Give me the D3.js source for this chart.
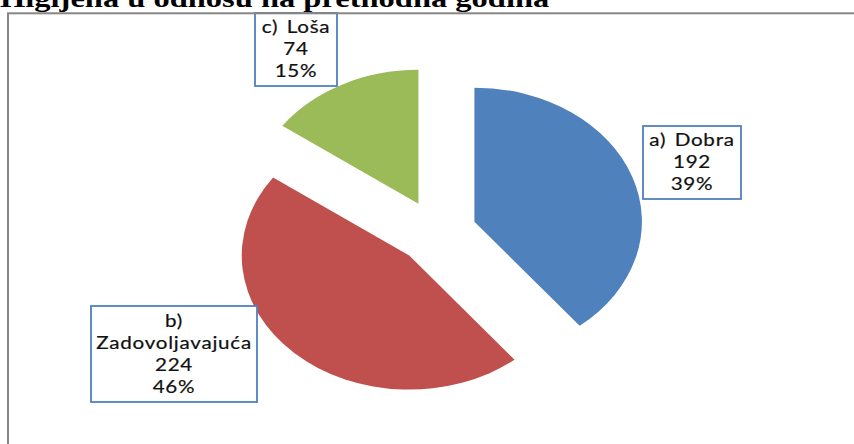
<!DOCTYPE html>
<html>
<head>
<meta charset="utf-8">
<script src="https://cdn.jsdelivr.net/npm/d3@7"></script>
<style>
  html, body { margin: 0; padding: 0; background: #fff; overflow: hidden; }
</style>
</head>
<body>
<div id="chart"></div>
<script>
// data
const title = 'Higijena u odnosu na prethodna godina';
const categories = ['a) Dobra', 'b) Zadovoljavajuća', 'c) Loša'];
const labelLines = [['a) Dobra'], ['b)', 'Zadovoljavajuća'], ['c) Loša']];
const values = [192, 224, 74];
const colors = ['#4F81BD', '#C0504D', '#9BBB59'];

// label boxes, placed by hand like in the original
const labelBoxes = [
  { x: 643, y: 126, w: 98, h: 73 },
  { x: 91, y: 306, w: 166, h: 96 },
  { x: 255, y: 13, w: 82, h: 73 }
];

const width = 854, height = 444;
const stretch = 1.25;      // picture is wider than tall
const R = 134;             // vertical radius
const explode = 32;
const center = [436.7, 232.3];

const svg = d3.select('#chart').append('svg')
  .attr('width', width)
  .attr('height', height)
  .style('display', 'block');

svg.append('rect').attr('width', width).attr('height', height).attr('fill', '#fff');

// title (cut by the top edge)
svg.append('text')
  .attr('transform', 'translate(0,7) scale(' + stretch + ',1)')
  .attr('font-family', '"Liberation Serif", "Times New Roman", serif')
  .attr('font-weight', 'bold')
  .attr('font-size', 26)
  .attr('fill', '#000')
  .text(title);

const total = d3.sum(values);
const pct = d3.format('.0%');

const pie = d3.pie().sort(null).value(d => d)(values);
const arc = d3.arc().innerRadius(0).outerRadius(R);

const g = svg.append('g')
  .attr('transform', 'translate(' + center[0] + ',' + center[1] + ')');

g.selectAll('path')
  .data(pie)
  .join('path')
  .attr('transform', d => {
    const m = (d.startAngle + d.endAngle) / 2;
    const dx = Math.sin(m) * explode * stretch;
    const dy = -Math.cos(m) * explode;
    return 'translate(' + dx + ',' + dy + ') scale(' + stretch + ',1)';
  })
  .attr('d', arc)
  .attr('fill', (d, i) => colors[i]);

// data labels
const lab = svg.append('g').selectAll('g')
  .data(pie)
  .join('g');

lab.append('rect')
  .attr('x', (d, i) => labelBoxes[i].x)
  .attr('y', (d, i) => labelBoxes[i].y)
  .attr('width', (d, i) => labelBoxes[i].w)
  .attr('height', (d, i) => labelBoxes[i].h)
  .attr('fill', '#fff')
  .attr('stroke', '#4F81BD')
  .attr('stroke-width', 1.8);

const lineH = 22;
lab.each(function(d, i) {
  const b = labelBoxes[i];
  const lines = labelLines[i].concat([String(values[i]), pct(values[i] / total)]);
  const top = b.y + b.h / 2 - (lines.length - 1) * lineH / 2;
  d3.select(this).selectAll('text')
    .data(lines)
    .join('text')
    .attr('transform', (t, k) => 'translate(' + (b.x + b.w / 2) + ',' + (top + k * lineH) + ') scale(' + stretch + ',1)')
    .attr('text-anchor', 'middle')
    .attr('dy', '0.35em')
    .attr('font-family', 'Lato, "Open Sans", sans-serif')
    .attr('font-size', 16.5)
    .attr('letter-spacing', 0.6)
    .attr('word-spacing', 2)
    .attr('fill', '#111')
    .attr('stroke', '#111')
    .attr('stroke-width', 0.2)
    .text(t => t);
});

// chart area border, runs off the right and bottom edges
svg.append('rect')
  .attr('x', 8)
  .attr('y', 13.3)
  .attr('width', 900)
  .attr('height', 500)
  .attr('fill', 'none')
  .attr('stroke', '#868686')
  .attr('stroke-width', 2);
</script>
</body>
</html>
